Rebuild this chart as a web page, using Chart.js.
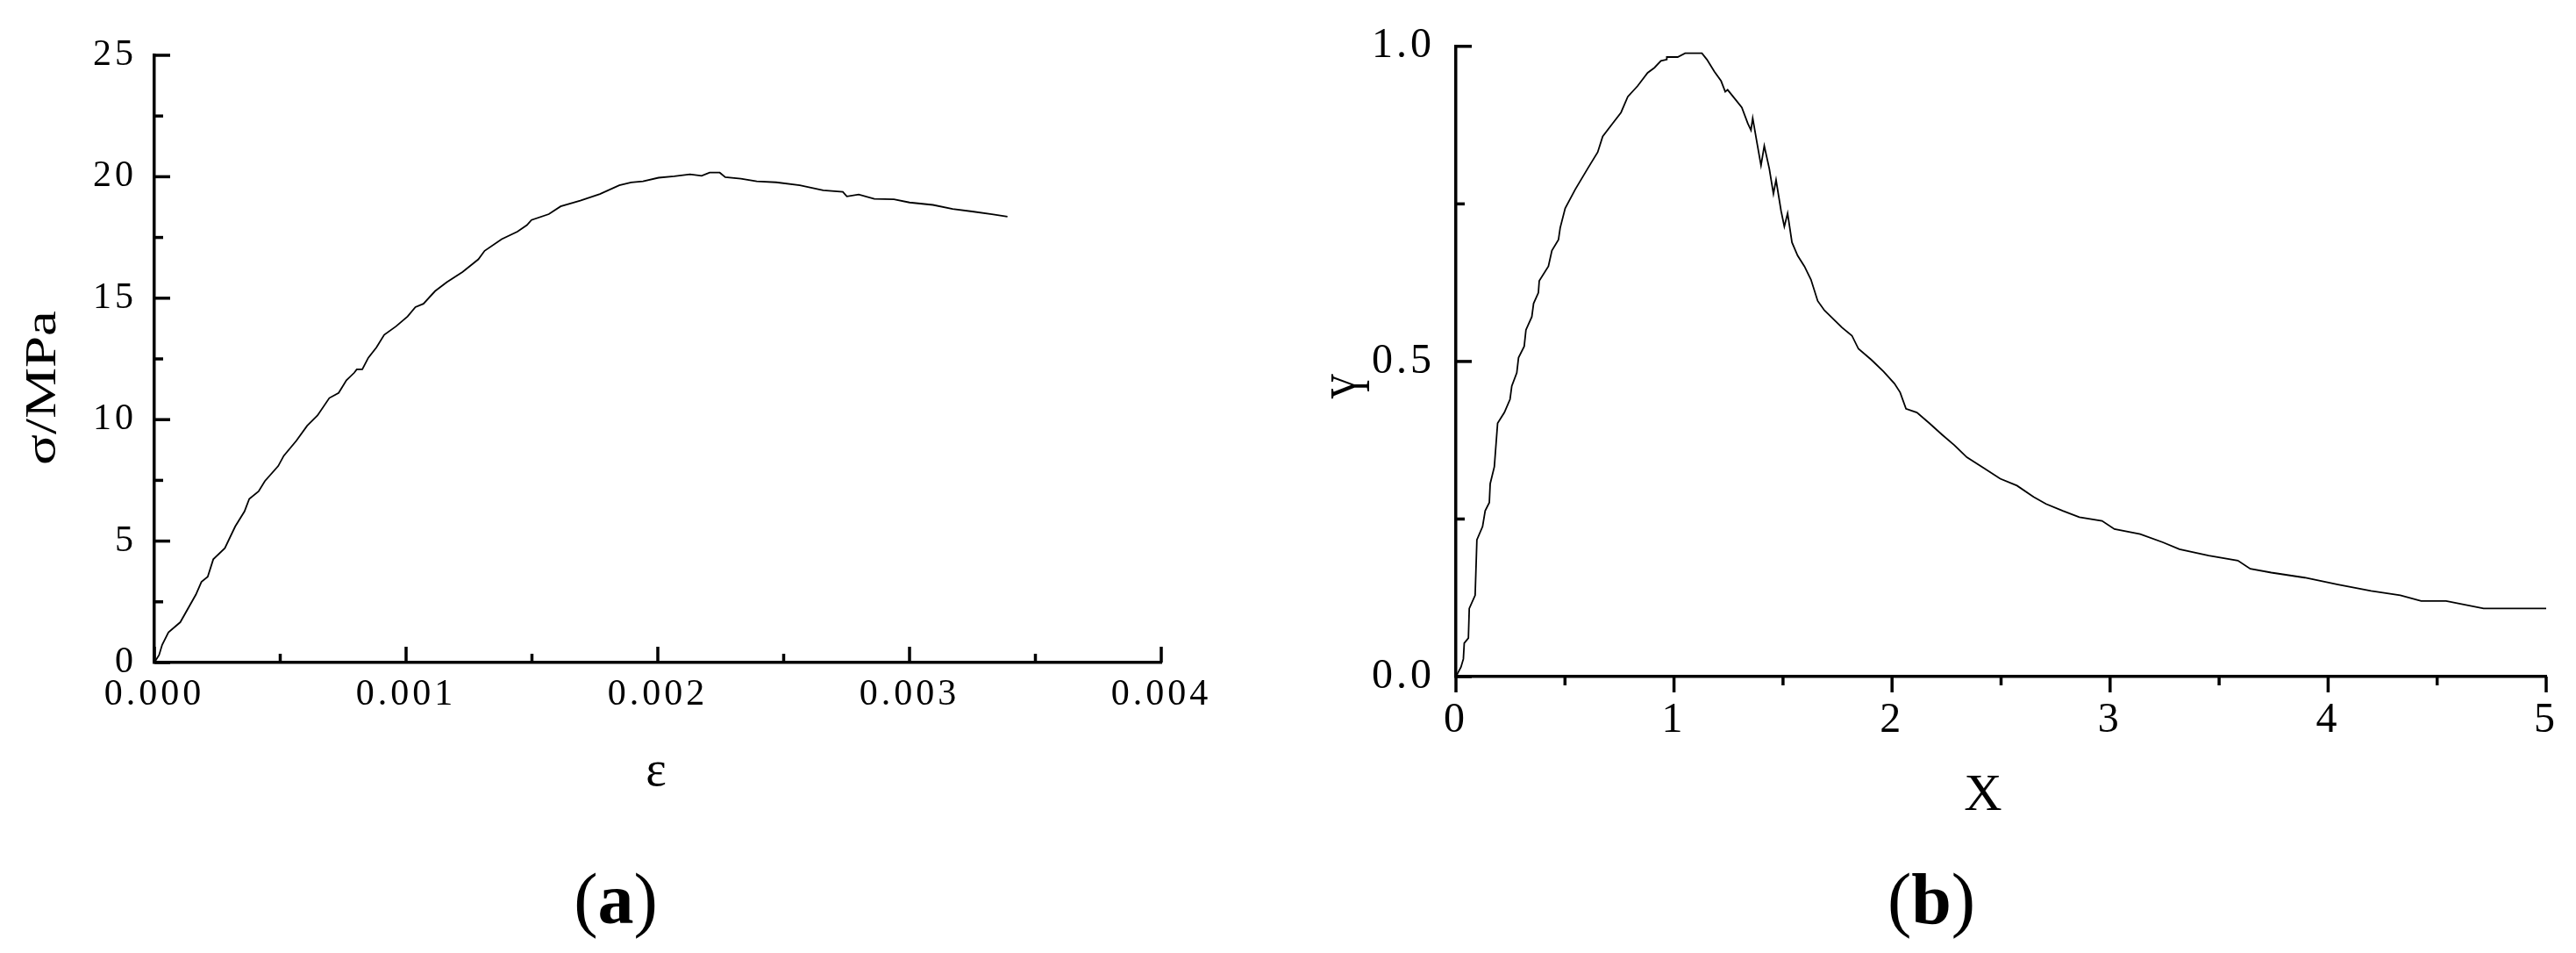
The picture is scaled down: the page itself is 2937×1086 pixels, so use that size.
<!DOCTYPE html>
<html><head><meta charset="utf-8">
<script src="https://cdn.jsdelivr.net/npm/chart.js@4.4.0/dist/chart.umd.min.js"></script>
<style>
html,body{margin:0;padding:0;background:#fff;}
#wrap{position:relative;width:2937px;height:1086px;overflow:hidden;background:#fff;}
canvas{position:absolute;top:0;}
#ca{left:0;} #cb{left:1450px;}
</style></head><body>
<div id="wrap"><canvas id="ca" width="1450" height="1086"></canvas><canvas id="cb" width="1487" height="1086"></canvas></div>
<script>
// ---- Panel (a): stress-strain ----
const strainValues = [0,0.0000187,0.000031,0.000056,0.000103,0.000165,0.000187,0.000212,0.000234,0.00028,0.000321,0.000358,0.000377,0.000414,0.000439,0.000492,0.000514,0.000564,0.000607,0.000648,0.000695,0.000732,0.000763,0.000794,0.000804,0.000826,0.00085,0.000882,0.000913,0.00096,0.001006,0.001037,0.001069,0.001115,0.001162,0.001224,0.001287,0.001312,0.00138,0.001442,0.00148,0.001498,0.001567,0.001614,0.001692,0.00177,0.001847,0.001894,0.001941,0.002003,0.002065,0.002128,0.002174,0.002206,0.002246,0.002268,0.00233,0.002393,0.00247,0.002564,0.002657,0.002735,0.002751,0.002798,0.00286,0.002938,0.003,0.003093,0.003171,0.003249,0.003327,0.003389];
const stressValues = [0,0.31,0.73,1.24,1.66,2.80,3.32,3.53,4.25,4.71,5.60,6.22,6.74,7.05,7.47,8.09,8.51,9.13,9.75,10.17,10.89,11.10,11.62,11.93,12.07,12.07,12.55,12.97,13.49,13.84,14.25,14.63,14.77,15.29,15.66,16.08,16.60,16.95,17.43,17.74,18.01,18.22,18.46,18.78,19.02,19.29,19.65,19.77,19.81,19.96,20.02,20.10,20.04,20.17,20.17,19.98,19.92,19.81,19.77,19.65,19.44,19.38,19.19,19.27,19.09,19.07,18.94,18.84,18.67,18.57,18.46,18.36];
const strainTickLabels = ['0.000','0.001','0.002','0.003','0.004'];
const stressTickLabels = ['0','5','10','15','20','25'];

// ---- Panel (b): normalised curve ----
const xValues = [0,0.023,0.034,0.038,0.057,0.061,0.088,0.096,0.122,0.134,0.153,0.157,0.176,0.191,0.222,0.248,0.256,0.279,0.287,0.313,0.321,0.348,0.356,0.378,0.382,0.424,0.440,0.470,0.478,0.501,0.547,0.604,0.650,0.673,0.719,0.757,0.788,0.833,0.879,0.910,0.940,0.967,0.967,1.017,1.051,1.128,1.151,1.185,1.216,1.235,1.246,1.281,1.311,1.338,1.353,1.361,1.380,1.399,1.414,1.437,1.456,1.468,1.491,1.506,1.521,1.541,1.567,1.598,1.628,1.659,1.690,1.732,1.770,1.816,1.846,1.904,1.961,2.011,2.037,2.064,2.114,2.171,2.229,2.286,2.343,2.420,2.496,2.573,2.649,2.706,2.783,2.859,2.963,3.020,3.138,3.242,3.318,3.452,3.586,3.643,3.739,3.892,4.045,4.197,4.331,4.427,4.541,4.713,5.000];
const yValues = [0,0.015,0.028,0.053,0.061,0.108,0.129,0.217,0.238,0.263,0.276,0.306,0.333,0.402,0.419,0.440,0.461,0.482,0.506,0.524,0.550,0.571,0.592,0.609,0.628,0.651,0.676,0.693,0.712,0.743,0.773,0.806,0.832,0.857,0.878,0.895,0.920,0.937,0.958,0.966,0.977,0.979,0.983,0.983,0.989,0.989,0.979,0.960,0.945,0.928,0.931,0.916,0.903,0.878,0.867,0.886,0.848,0.811,0.842,0.806,0.766,0.788,0.739,0.714,0.735,0.689,0.668,0.651,0.630,0.596,0.581,0.567,0.554,0.541,0.520,0.503,0.484,0.465,0.451,0.425,0.419,0.402,0.384,0.367,0.348,0.331,0.314,0.303,0.285,0.274,0.263,0.253,0.247,0.234,0.226,0.213,0.202,0.192,0.184,0.171,0.165,0.157,0.146,0.136,0.129,0.120,0.120,0.108,0.108];
const xTickLabels = ['0','1','2','3','4','5'];
const yTickLabels = ['0.0','0.5','1.0'];

const FAMILY = "'Liberation Serif','Times New Roman',serif";

const spacingPlugin = {
  id: 'spacing',
  beforeDraw(chart) { chart.ctx.letterSpacing = '4px'; }
};

const tickPlugin = {
  id: 'customTicks',
  afterDraw(chart, args, opts) {
    const ctx = chart.ctx, a = chart.chartArea;
    ctx.save();
    ctx.letterSpacing = '0px';
    ctx.strokeStyle = '#000';
    ctx.lineWidth = opts.width;
    ctx.lineCap = 'butt';
    ['x', 'y'].forEach(id => {
      const s = chart.scales[id];
      const vals = s.ticks.map(t => t.value);
      const dir = opts[id];
      const draw = (v, len) => {
        const p = s.getPixelForValue(v);
        ctx.beginPath();
        if (id === 'x') { ctx.moveTo(p, a.bottom); ctx.lineTo(p, a.bottom - dir * len); }
        else { ctx.moveTo(a.left, p); ctx.lineTo(a.left + dir * len, p); }
        ctx.stroke();
      };
      vals.forEach(v => draw(v, opts.major));
      for (let i = 0; i < vals.length - 1; i++) draw((vals[i] + vals[i + 1]) / 2, opts.minor);
    });
    ctx.restore();
  }
};

const textPlugin = {
  id: 'texts',
  afterDraw(chart, args, opts) {
    const ctx = chart.ctx;
    ctx.save();
    ctx.letterSpacing = '0px';
    ctx.fillStyle = '#000';
    ctx.textBaseline = 'alphabetic';
    (opts.items || []).forEach(it => {
      ctx.save();
      ctx.translate(it.x, it.y);
      if (it.rot) ctx.rotate(it.rot);
      ctx.scale(it.sx || 1, it.sy || 1);
      ctx.font = it.font;
      ctx.textAlign = 'center';
      ctx.fillText(it.text, 0, 0);
      ctx.restore();
    });
    const p = opts.panel;
    if (p) {
      const reg = '82px ' + FAMILY, bold = 'bold 82px ' + FAMILY;
      ctx.font = reg; const w1 = ctx.measureText('(').width;
      ctx.font = bold; const w2 = ctx.measureText(p.letter).width;
      ctx.font = reg; const w3 = ctx.measureText(')').width;
      let x = p.x - (w1 + w2 + w3) / 2;
      ctx.textAlign = 'left';
      ctx.font = reg; ctx.fillText('(', x, p.y); x += w1;
      ctx.font = bold; ctx.fillText(p.letter, x, p.y); x += w2;
      ctx.font = reg; ctx.fillText(')', x, p.y);
    }
    ctx.restore();
  }
};

function makeChart(id, cfg) {
  const pts = cfg.xs.map((x, i) => ({ x: x, y: cfg.ys[i] }));
  return new Chart(document.getElementById(id), {
    type: 'line',
    data: { datasets: [{ data: pts, borderColor: '#000', borderWidth: 1.8, pointRadius: 0, tension: 0, fill: false }] },
    plugins: [spacingPlugin, tickPlugin, textPlugin],
    options: {
      responsive: false, animation: false, devicePixelRatio: 1,
      layout: { padding: cfg.padding },
      plugins: {
        legend: { display: false }, tooltip: { enabled: false },
        customTicks: cfg.ticks,
        texts: cfg.texts
      },
      scales: {
        x: {
          type: 'linear', min: cfg.xmin, max: cfg.xmax,
          grid: { display: false, drawTicks: false },
          border: { display: true, color: '#000', width: 3.5 },
          ticks: { stepSize: cfg.xstep, color: '#000', padding: cfg.xpad, maxRotation: 0, autoSkip: false,
            font: { family: FAMILY, size: cfg.fontSize },
            callback: (v, i) => cfg.xlabels[i] },
          afterFit: s => { s.height = cfg.xh; }
        },
        y: {
          type: 'linear', min: cfg.ymin, max: cfg.ymax,
          grid: { display: false, drawTicks: false },
          border: { display: true, color: '#000', width: 3.5 },
          ticks: { stepSize: cfg.ystep, color: '#000', padding: cfg.ypad, autoSkip: false,
            font: { family: FAMILY, size: cfg.fontSize },
            callback: (v, i) => cfg.ylabels[i] },
          afterFit: s => { s.width = cfg.yw; }
        }
      }
    }
  });
}

makeChart('ca', {
  xs: strainValues, ys: stressValues,
  xmin: 0, xmax: 0.004, xstep: 0.001, ymin: 0, ymax: 25, ystep: 5,
  xlabels: strainTickLabels, ylabels: stressTickLabels,
  fontSize: 42, xpad: 12, ypad: 20,
  padding: { left: 0, top: 63, right: 126, bottom: 0 },
  xh: 331, yw: 176,
  ticks: { x: 1, y: 1, major: 18, minor: 10, width: 3.5 },
  texts: {
    items: [
      { text: 'σ/MPa', x: 63, y: 442, rot: -Math.PI / 2, sx: 1.3, font: '50px ' + FAMILY },
      { text: 'ε', x: 748, y: 895, font: '56px ' + FAMILY }
    ],
    panel: { letter: 'a', x: 702, y: 1052 }
  }
});

makeChart('cb', {
  xs: xValues, ys: yValues,
  xmin: 0, xmax: 5, xstep: 1, ymin: 0, ymax: 1, ystep: 0.5,
  xlabels: xTickLabels, ylabels: yTickLabels,
  fontSize: 48, xpad: 22, ypad: 24,
  padding: { left: 0, top: 43, right: 31, bottom: 0 },
  xh: 315, yw: 210,
  ticks: { x: -1, y: 1, major: 18, minor: 10, width: 3.5 },
  texts: {
    items: [
      { text: 'Y', x: 111, y: 440, rot: -Math.PI / 2, sx: 0.62, font: '66px ' + FAMILY },
      { text: 'X', x: 811, y: 923, font: '60px ' + FAMILY }
    ],
    panel: { letter: 'b', x: 752, y: 1052 }
  }
});
</script>
</body></html>
